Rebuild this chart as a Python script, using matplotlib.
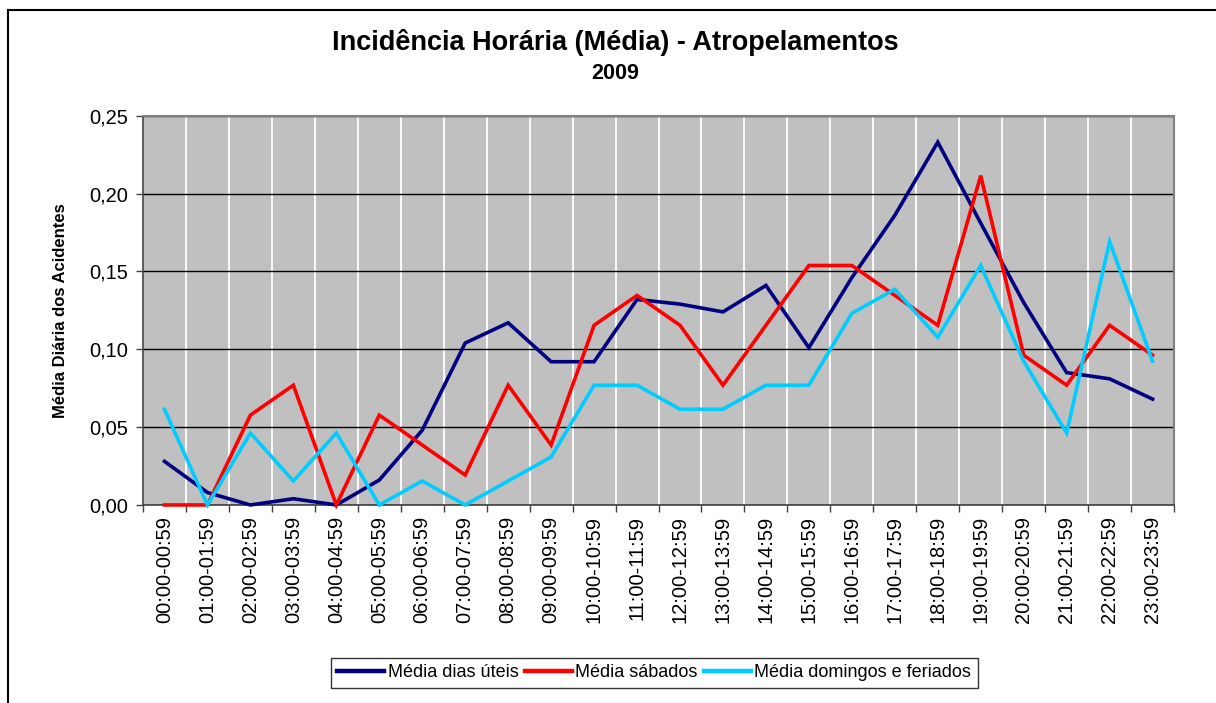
import matplotlib

matplotlib.use("Agg")
import matplotlib.pyplot as plt
from matplotlib.lines import Line2D
from matplotlib.ticker import FuncFormatter, MultipleLocator

plt.rcParams["font.family"] = ["Liberation Sans", "DejaVu Sans"]

hours = [f"{h:02d}:00-{h:02d}:59" for h in range(24)]

weekdays = [0.028, 0.008, 0.000, 0.004, 0.000, 0.016, 0.048, 0.104,
            0.117, 0.092, 0.092, 0.132, 0.129, 0.124, 0.141, 0.101,
            0.146, 0.186, 0.233, 0.181, 0.130, 0.085, 0.081, 0.068]
saturdays = [0.000, 0.000, 0.0577, 0.0769, 0.000, 0.0577, 0.0385, 0.0192,
             0.0769, 0.0385, 0.1154, 0.1346, 0.1154, 0.0769, 0.1154, 0.1538,
             0.1538, 0.1346, 0.1154, 0.2115, 0.0962, 0.0769, 0.1154, 0.0962]
sundays = [0.0615, 0.000, 0.0462, 0.0154, 0.0462, 0.000, 0.0154, 0.000,
           0.0154, 0.0308, 0.0769, 0.0769, 0.0615, 0.0615, 0.0769, 0.0769,
           0.1231, 0.1385, 0.1077, 0.1538, 0.0923, 0.0462, 0.1692, 0.0923]

series = [
    ("Média dias úteis", weekdays, "#000080"),
    ("Média sábados", saturdays, "#ff0000"),
    ("Média domingos e feriados", sundays, "#00ccff"),
]

fig = plt.figure(figsize=(12.16, 7.03), dpi=100)
ax = fig.add_axes([0.1176, 0.2817, 0.8479, 0.5537])
ax.set_facecolor("#c0c0c0")

x = list(range(len(hours)))
for label, values, color in series:
    # drawn over the axis line, so the zero stretches stay visible
    ax.plot(x, values, color=color, lw=2.6, label=label,
            solid_joinstyle="miter", clip_on=False, zorder=4)

ax.set_xlim(-0.5, len(hours) - 0.5)
ax.set_ylim(0, 0.25)

# category boundaries carry the ticks and the white vertical grid
ax.set_xticks(x)
ax.set_xticklabels(hours, rotation=90, fontsize=14.5)
ax.set_xticks([i + 0.5 for i in range(-1, len(hours))], minor=True)
ax.tick_params(axis="x", which="major", length=0, pad=8)
ax.tick_params(axis="x", which="minor", length=5, width=1, color="#404040")
ax.grid(axis="x", which="minor", color="white", lw=1.3)

ax.yaxis.set_major_locator(MultipleLocator(0.05))
ax.yaxis.set_major_formatter(FuncFormatter(lambda v, _: f"{v:.2f}".replace(".", ",")))
ax.tick_params(axis="y", length=5, width=1, color="#404040", labelsize=14.5, pad=6)
ax.grid(axis="y", which="major", color="black", lw=1)
ax.set_axisbelow(True)

for side in ("top", "right"):
    ax.spines[side].set_color("#808080")
    ax.spines[side].set_linewidth(1.5)
for side in ("left", "bottom"):
    ax.spines[side].set_color("#404040")
    ax.spines[side].set_linewidth(1.2)

ax.set_ylabel("Média Diária dos Acidentes", fontsize=12, fontweight="bold", labelpad=15)

fig.text(0.506, 0.940, "Incidência Horária (Média) - Atropelamentos",
         ha="center", va="center", fontsize=19.5, fontweight="bold")
fig.text(0.506, 0.895, "2009", ha="center", va="center", fontsize=15.5, fontweight="bold")

leg = fig.legend(loc="center", bbox_to_anchor=(0.538, 0.0427), ncol=3,
                 fontsize=13, frameon=True, fancybox=False, edgecolor="black",
                 handlelength=2.6, handletextpad=0.2, columnspacing=0.35,
                 borderpad=0.35, borderaxespad=0)
leg.get_frame().set_linewidth(1)
for handle in leg.get_lines():
    handle.set_linewidth(3.2)

# outer chart frame, cut off at the right and bottom edges of the image
fig.add_artist(Line2D([7.5 / 1216, 7.5 / 1216], [0, 1 - 9.5 / 703],
                      transform=fig.transFigure, color="black", lw=1.5))
fig.add_artist(Line2D([7.5 / 1216, 1], [1 - 9.5 / 703, 1 - 9.5 / 703],
                      transform=fig.transFigure, color="black", lw=1.5))

fig.savefig("out.png", dpi=100)
